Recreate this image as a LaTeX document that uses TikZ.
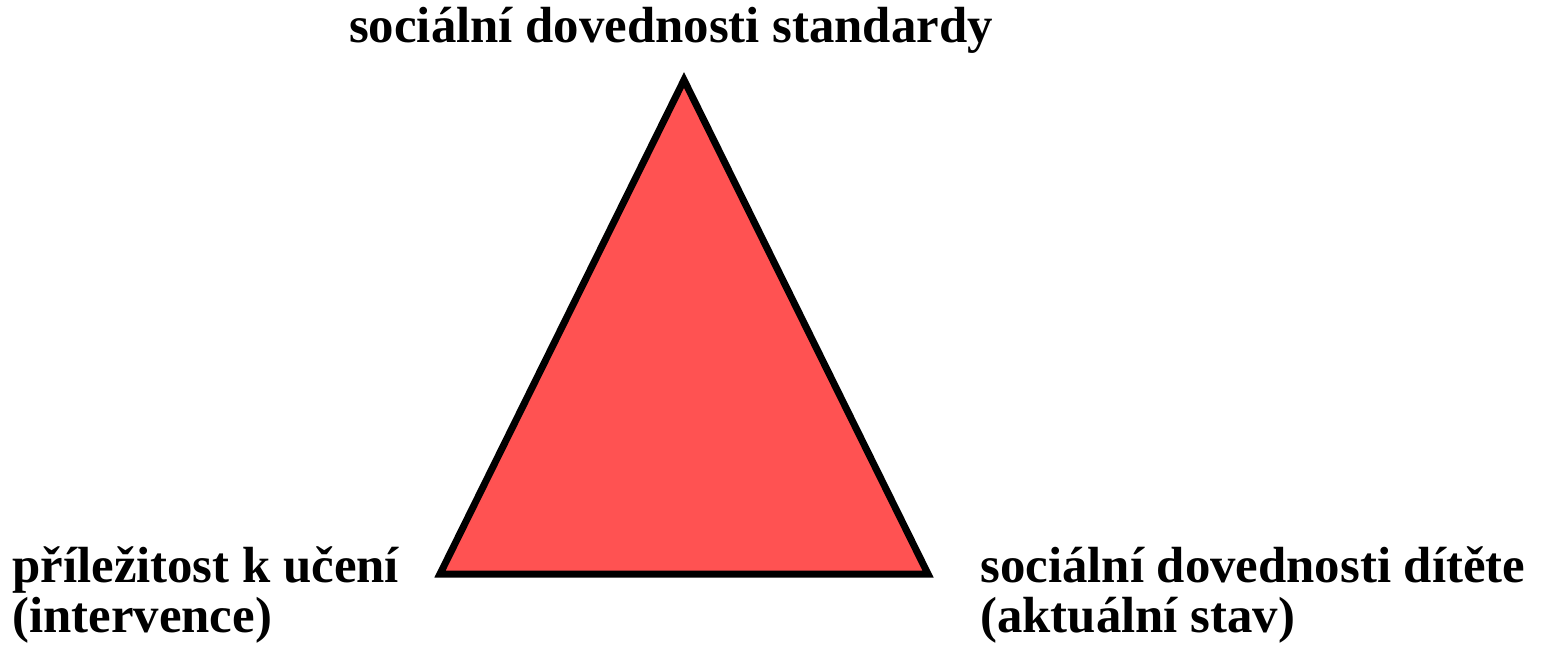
\documentclass[tikz,border=0pt]{standalone}
\usepackage{fontspec}
\setmainfont{Liberation Serif}
\definecolor{trired}{RGB}{255,82,82}
\tikzset{
    cornertext/.style={inner sep=0pt, align=left, font=\bfseries\fontsize{25.4}{25}\selectfont}
}

\begin{document}
\begin{tikzpicture}[x=1pt, y=1pt]
    \useasboundingbox (0,0) rectangle (773,330);

    % Draw corners
    \coordinate (apex) at (342,290);
    \coordinate (left) at (220,43);
    \coordinate (right) at (464,43);

    % Draw triangle
    \draw[line width=3.5pt, fill=trired, line join=miter] (apex) -- (left) -- (right) -- cycle;

    % Labels
    \node[cornertext, anchor=base] (standard) at (335.5,308.5) {sociální dovednosti standardy};
    \node[cornertext, anchor=base west] (chance) at (6,14) {příležitost k učení\\(intervence)};
    \node[cornertext, anchor=base west] (child) at (490,14) {sociální dovednosti dítěte\\(aktuální stav)};
\end{tikzpicture}
\end{document}
